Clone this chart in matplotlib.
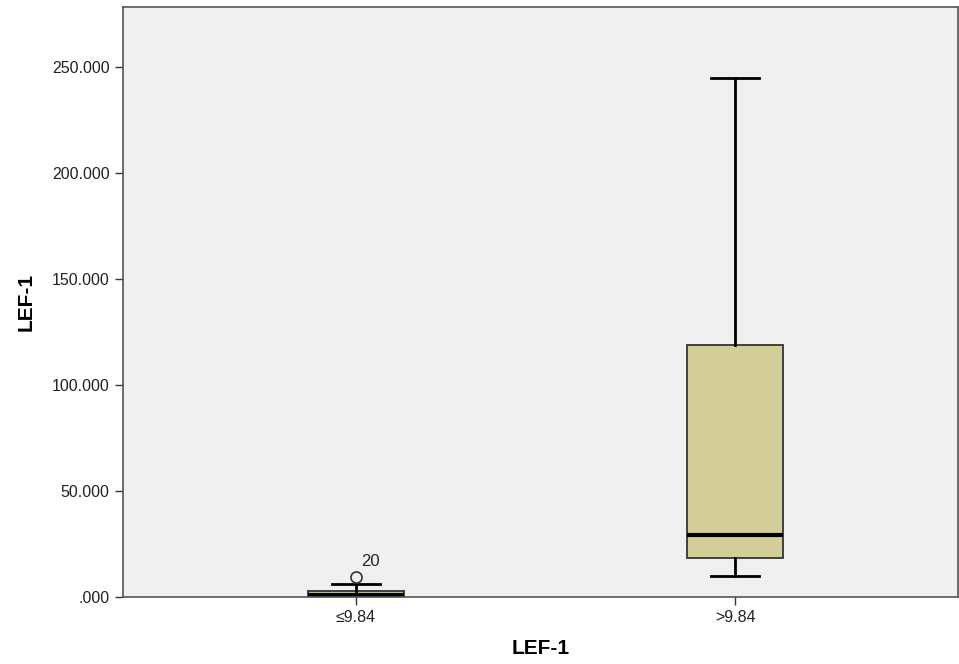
import matplotlib.pyplot as plt
from matplotlib.ticker import FuncFormatter

plt.rcParams['font.family'] = ['Liberation Sans', 'DejaVu Sans']

# Group labels and box statistics
groups = ['≤9.84', '>9.84']
whislo = [0.0, 9.9]
q1 = [0.6, 18.4]
med = [0.8, 29.2]
q3 = [3.0, 118.9]
whishi = [6.1, 244.8]
fliers = [[9.4], []]
flier_ids = [['20'], []]

stats = []
for i in range(len(groups)):
    stats.append(dict(label=groups[i], whislo=whislo[i], q1=q1[i], med=med[i],
                      q3=q3[i], whishi=whishi[i], fliers=fliers[i]))

fig = plt.figure(figsize=(9.59, 6.64), dpi=100)
ax = fig.add_axes([0.128, 0.101, 0.871, 0.888])
ax.set_facecolor('#f0f0f0')

ax.bxp(stats, positions=[1, 2], widths=0.253, patch_artist=True,
       boxprops=dict(facecolor='#d3ce97', edgecolor='#333333', linewidth=1.3),
       medianprops=dict(color='black', linewidth=3),
       whiskerprops=dict(color='black', linewidth=2),
       capprops=dict(color='black', linewidth=2),
       flierprops=dict(marker='o', markerfacecolor='none', markeredgecolor='#333333',
                       markersize=8, markeredgewidth=1.2))

for i in range(len(groups)):
    for v, t in zip(fliers[i], flier_ids[i]):
        ax.annotate(t, (i + 1, v), xytext=(4, 8), textcoords='offset points',
                    fontsize=12, color='#222222')

ax.set_xlim(0.385, 2.588)
ax.set_ylim(0, 278.3)
ax.set_yticks([0, 50, 100, 150, 200, 250])
ax.yaxis.set_major_formatter(FuncFormatter(lambda v, p: '.000' if v == 0 else '%d.000' % v))
ax.tick_params(axis='both', length=6, width=1, color='#333333', labelsize=11.5, labelcolor='#222222')

for s in ax.spines.values():
    s.set_color('#555555')
    s.set_linewidth(1.2)

ax.set_xlabel('LEF-1', fontsize=15, fontweight='bold', labelpad=10)
ax.set_ylabel('LEF-1', fontsize=15, fontweight='bold', labelpad=12)

fig.savefig('out.png', dpi=100)
